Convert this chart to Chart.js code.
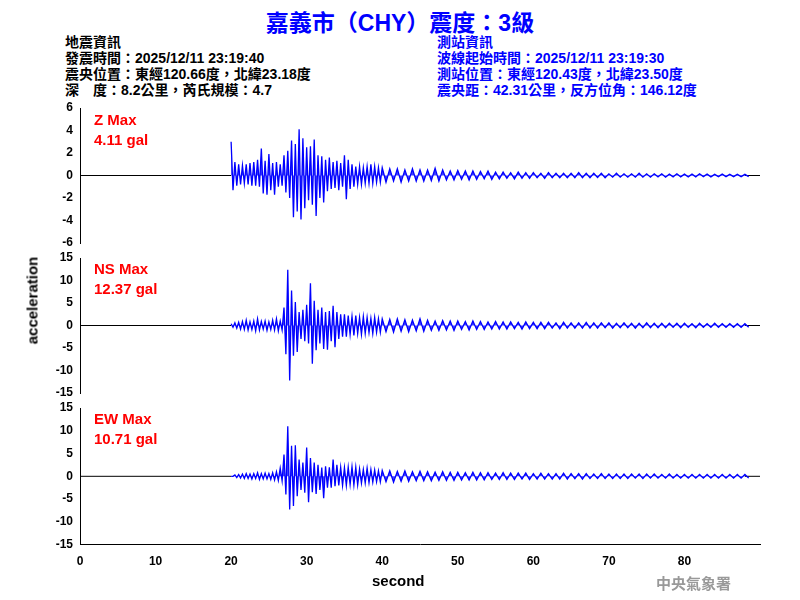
<!DOCTYPE html>
<html><head><meta charset="utf-8">
<script src="https://cdn.jsdelivr.net/npm/chart.js@4"></script>
<style>
body{margin:0;width:800px;height:600px;background:#fff;position:relative;overflow:hidden;font-family:"Liberation Sans","Noto Sans CJK TC",sans-serif}
.t{position:absolute;white-space:nowrap;font-weight:bold}
.p{position:absolute;left:0;width:800px}
</style></head><body>
<div class="t" style="left:0;width:800px;text-align:center;top:4px;font-size:23px;color:#0000ff">嘉義市（CHY）震度：3級</div>
<div class="t" style="left:65px;top:34px;font-size:14px;line-height:16px;color:#000">地震資訊<br>發震時間：2025/12/11 23:19:40<br>震央位置：東經120.66度，北緯23.18度<br>深　度：8.2公里，芮氏規模：4.7</div>
<div class="t" style="left:437px;top:34px;font-size:14px;line-height:16px;color:#0000ff">測站資訊<br>波線起始時間：2025/12/11 23:19:30<br>測站位置：東經120.43度，北緯23.50度<br>震央距：42.31公里，反方位角：146.12度</div>
<div class="p" style="top:98px;height:155px"><canvas id="c0"></canvas></div>
<div class="p" style="top:248px;height:155px"><canvas id="c1"></canvas></div>
<div class="p" style="top:398px;height:183px"><canvas id="c2"></canvas></div>
<div class="t" style="left:94px;top:110px;font-size:15px;line-height:20px;color:#ff0000">Z Max<br>4.11 gal</div>
<div class="t" style="left:94px;top:259px;font-size:15px;line-height:20px;color:#ff0000">NS Max<br>12.37 gal</div>
<div class="t" style="left:94px;top:409px;font-size:15px;line-height:20px;color:#ff0000">EW Max<br>10.71 gal</div>
<div class="t" style="left:-18px;top:292px;font-size:15px;transform:rotate(-90deg);width:100px;text-align:center">acceleration</div>
<div class="t" style="left:372px;top:572px;font-size:15px">second</div>
<div class="t" style="left:656px;top:572px;font-size:15px;color:#999;font-family:'Noto Sans CJK TC'">中央氣象署</div>
<script>
const times=[20,20.5,21,21.5,22,22.5,23,23.5,24,24.5,25,25.5,26,26.5,27,27.5,28,28.5,29,29.5,30,30.5,31,31.5,32,32.5,33,33.5,34,34.5,35,35.5,36,36.5,37,37.5,38,38.5,39,39.5,
40,41,42,43,44,45,46,47,48,49,50,51,52,53,54,55,56,57,58,59,60,61,62,63,64,65,66,67,68,69,70,71,72,73,74,75,76,77,78,79,80,81,82,83,84,85,86,87,88];
const zUp=[3.0,1.2,1.0,0.9,1.0,1.1,1.2,1.4,2.4,1.3,1.9,1.1,1.2,1.0,1.8,2.2,3.1,2.8,4.1,3.3,2.5,2.6,3.2,1.8,1.7,1.4,1.6,1.2,1.3,1.1,1.8,1.4,1.0,0.8,0.8,0.7,0.8,1.0,0.8,0.7,
0.7,0.6,0.6,0.5,0.6,0.5,0.5,0.65,0.5,0.4,0.45,0.4,0.4,0.35,0.4,0.3,0.3,0.25,0.3,0.25,0.25,0.2,0.25,0.2,0.2,0.2,0.25,0.2,0.2,0.2,0.15,0.2,0.15,0.15,0.2,0.15,0.15,0.15,0.12,0.15,0.12,0.12,0.15,0.12,0.1,0.12,0.1,0.1,0.1];
const zLo=[-1.3,-0.9,-0.8,-0.7,-0.8,-0.9,-0.9,-1.0,-1.6,-1.7,-1.3,-1.7,-1.0,-0.9,-1.5,-2.0,-3.7,-3.2,-3.9,-2.9,-2.2,-2.6,-3.6,-2.0,-2.4,-1.4,-1.2,-1.1,-1.3,-1.0,-2.1,-1.2,-1.0,-0.8,-0.8,-0.7,-0.7,-0.7,-0.6,-0.6,
-0.6,-0.5,-0.6,-0.5,-0.5,-0.5,-0.45,-0.5,-0.4,-0.4,-0.35,-0.4,-0.35,-0.3,-0.35,-0.3,-0.25,-0.3,-0.25,-0.25,-0.2,-0.25,-0.2,-0.2,-0.2,-0.2,-0.2,-0.2,-0.18,-0.2,-0.15,-0.15,-0.15,-0.15,-0.15,-0.15,-0.12,-0.15,-0.12,-0.12,-0.12,-0.12,-0.1,-0.12,-0.1,-0.1,-0.1,-0.1,-0.1];
const nsUp=[0.4,0.6,0.7,0.9,1.2,0.8,1.0,1.5,0.9,1.0,0.8,1.2,1.5,1.0,4.0,12.4,7.8,5.2,3.0,3.5,4.6,9.4,5.5,3.5,4.0,3.0,3.2,4.4,3.0,2.5,2.5,2.2,2.0,2.2,1.8,2.0,1.8,1.6,1.8,1.5,
1.5,1.4,1.5,1.3,1.2,1.5,1.2,1.0,1.1,1.0,1.0,0.9,1.0,0.9,0.8,0.9,0.8,0.8,0.7,0.8,0.7,0.7,0.7,0.6,0.7,0.6,0.6,0.7,0.6,0.6,0.6,0.5,0.6,0.5,0.5,0.6,0.5,0.5,0.5,0.5,0.5,0.4,0.5,0.4,0.5,0.4,0.4,0.4,0.4];
const nsLo=[-0.4,-0.6,-0.8,-0.9,-1.0,-0.9,-1.2,-1.0,-0.8,-1.1,-0.9,-1.0,-1.2,-1.0,-6.4,-12.2,-6.7,-5.9,-3.0,-3.5,-4.0,-8.5,-5.5,-4.0,-5.2,-5.4,-3.5,-4.8,-3.0,-2.5,-2.5,-2.0,-2.2,-1.8,-2.0,-1.8,-1.6,-1.8,-1.5,-1.5,
-1.4,-1.5,-1.3,-1.4,-1.2,-1.3,-1.1,-1.1,-1.0,-1.1,-0.9,-1.0,-0.9,-0.9,-0.8,-0.8,-0.8,-0.7,-0.8,-0.7,-0.7,-0.7,-0.6,-0.7,-0.6,-0.6,-0.6,-0.6,-0.6,-0.5,-0.6,-0.5,-0.5,-0.6,-0.5,-0.5,-0.5,-0.5,-0.4,-0.5,-0.4,-0.5,-0.4,-0.4,-0.4,-0.4,-0.4,-0.4,-0.4];
const ewUp=[0,0.3,0.4,0.5,0.6,0.5,0.6,0.8,0.6,0.7,0.6,0.8,1.0,1.8,4.8,11.0,6.7,6.8,3.7,3.0,6.3,4.0,3.0,2.5,1.9,2.2,2.0,3.7,2.5,2.0,1.9,2.0,2.1,2.0,1.6,1.5,1.8,1.5,1.4,1.2,
1.3,1.2,1.1,1.2,1.0,1.1,1.0,0.9,1.0,0.9,0.9,0.8,0.9,0.8,0.8,0.7,0.8,0.7,0.7,0.7,0.6,0.7,0.6,0.6,0.7,0.6,0.6,0.6,0.5,0.6,0.5,0.5,0.5,0.5,0.5,0.5,0.5,0.4,0.5,0.4,0.4,0.4,0.4,0.4,0.4,0.4,0.4,0.4,0.4];
const ewLo=[0,-0.3,-0.4,-0.5,-0.5,-0.6,-0.5,-0.7,-0.6,-0.6,-0.7,-0.8,-0.9,-1.0,-4.0,-7.3,-6.5,-4.4,-3.0,-3.6,-5.7,-3.5,-3.9,-3.0,-4.8,-2.5,-2.5,-2.2,-2.0,-2.0,-2.0,-1.8,-1.9,-1.9,-1.5,-1.5,-1.4,-1.3,-1.2,-1.2,
-1.2,-1.3,-1.1,-1.1,-1.0,-1.0,-1.0,-0.9,-0.9,-0.9,-0.8,-0.8,-0.8,-0.8,-0.7,-0.7,-0.7,-0.7,-0.6,-0.7,-0.6,-0.6,-0.6,-0.6,-0.6,-0.5,-0.6,-0.5,-0.5,-0.5,-0.5,-0.5,-0.5,-0.4,-0.5,-0.4,-0.4,-0.4,-0.4,-0.4,-0.4,-0.4,-0.4,-0.4,-0.4,-0.4,-0.4,-0.4,-0.4];
const zTicks=[-6,-4,-2,0,2,4,6];
const hTicks=[-15,-10,-5,0,5,10,15];
const xTicks=[0,10,20,30,40,50,60,70,80];

function wave(up,lo){
  const pts=[];
  for(let i=0;i<times.length;i++){
    const step=(i+1<times.length?times[i+1]:times[i]+1)-times[i];
    pts.push({x:times[i],y:up[i]});
    pts.push({x:times[i]+step/2,y:lo[i]});
  }
  return pts;
}
const font={family:"Liberation Sans",size:12,weight:'bold'};
function make(id,up,lo,ticks,showX){
  new Chart(document.getElementById(id),{
    type:'line',
    data:{datasets:[
      {data:wave(up,lo),borderColor:'#0000ff',backgroundColor:'rgba(0,0,255,0.75)',fill:'origin',borderWidth:1.3,pointRadius:0,tension:0},
      {data:[{x:0,y:0},{x:20,y:0}],borderColor:'#000',borderWidth:1,pointRadius:0},
      {data:[{x:88,y:0},{x:90,y:0}],borderColor:'#000',borderWidth:1,pointRadius:0}
    ]},
    options:{animation:false,responsive:true,maintainAspectRatio:false,
      layout:{padding:{top:10,bottom:10,right:40,left:0}},
      plugins:{legend:{display:false},tooltip:{enabled:false}},
      scales:{
        x:{type:'linear',min:0,max:90,display:showX,grid:{display:false,drawTicks:true},
          border:{color:'#000',width:1},
          afterBuildTicks:s=>{s.ticks=xTicks.map(v=>({value:v}));},
          ticks:{color:'#000',font:font,padding:2}},
        y:{min:ticks[0],max:ticks[ticks.length-1],
          afterBuildTicks:s=>{s.ticks=ticks.map(v=>({value:v}));},
          afterFit:s=>{s.width=80;},
          grid:{display:false,drawTicks:true,tickLength:5},
          border:{color:'#000',width:1},
          ticks:{color:'#000',font:font,padding:2}}
      }}
  });
}
make('c0',zUp,zLo,zTicks,false);
make('c1',nsUp,nsLo,hTicks,false);
make('c2',ewUp,ewLo,hTicks,true);
</script>
</body></html>
